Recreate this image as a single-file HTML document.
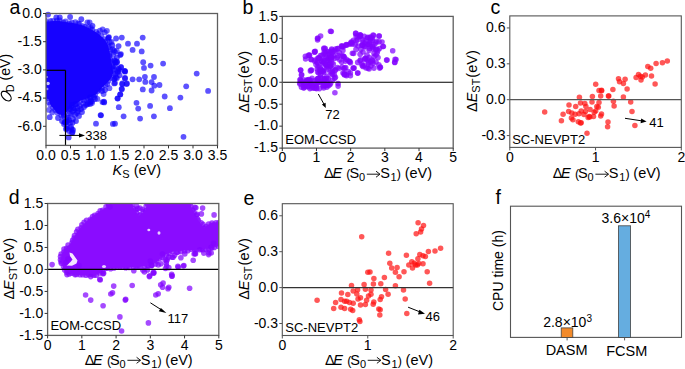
<!DOCTYPE html>
<html><head><meta charset="utf-8"><style>
html,body{margin:0;padding:0;background:#fff;}
body{width:685px;height:369px;overflow:hidden;}
svg{display:block;font-family:"Liberation Sans",sans-serif;}
</style></head><body>
<svg width="685" height="369" viewBox="0 0 685 369">
<clipPath id="ca"><rect x="46" y="13.5" width="171.5" height="131.9"/></clipPath><g clip-path="url(#ca)">
<g fill="#1000ff" fill-opacity="0.6"><circle cx="46.7" cy="20.5" r="2.9"/><circle cx="50.2" cy="20.9" r="2.9"/><circle cx="53.1" cy="21.0" r="2.9"/><circle cx="56.9" cy="20.6" r="2.9"/><circle cx="59.9" cy="20.4" r="2.9"/><circle cx="63.4" cy="22.3" r="2.9"/><circle cx="65.6" cy="21.5" r="2.9"/><circle cx="69.3" cy="23.3" r="2.9"/><circle cx="71.9" cy="22.6" r="2.9"/><circle cx="75.4" cy="22.2" r="2.9"/><circle cx="78.1" cy="23.5" r="2.9"/><circle cx="79.5" cy="24.0" r="2.9"/><circle cx="82.7" cy="26.2" r="2.9"/><circle cx="85.0" cy="26.8" r="2.9"/><circle cx="88.5" cy="27.5" r="2.9"/><circle cx="90.8" cy="28.0" r="2.9"/><circle cx="92.4" cy="29.9" r="2.9"/><circle cx="96.2" cy="31.9" r="2.9"/><circle cx="98.0" cy="33.8" r="2.9"/><circle cx="101.1" cy="35.8" r="2.9"/><circle cx="104.5" cy="39.2" r="2.9"/><circle cx="105.2" cy="41.6" r="2.9"/><circle cx="107.6" cy="44.9" r="2.9"/><circle cx="108.9" cy="47.0" r="2.9"/><circle cx="110.3" cy="49.9" r="2.9"/><circle cx="109.7" cy="53.8" r="2.9"/><circle cx="109.7" cy="55.8" r="2.9"/><circle cx="109.9" cy="58.8" r="2.9"/><circle cx="111.9" cy="61.3" r="2.9"/><circle cx="112.6" cy="63.4" r="2.9"/><circle cx="112.7" cy="66.6" r="2.9"/><circle cx="112.9" cy="69.5" r="2.9"/><circle cx="113.9" cy="73.6" r="2.9"/><circle cx="111.5" cy="78.0" r="2.9"/><circle cx="108.4" cy="80.8" r="2.9"/><circle cx="107.3" cy="84.1" r="2.9"/><circle cx="105.2" cy="84.9" r="2.9"/><circle cx="101.9" cy="87.9" r="2.9"/><circle cx="99.1" cy="89.7" r="2.9"/><circle cx="97.4" cy="91.2" r="2.9"/><circle cx="95.2" cy="94.7" r="2.9"/><circle cx="92.8" cy="94.9" r="2.9"/><circle cx="90.8" cy="97.4" r="2.9"/><circle cx="87.6" cy="97.8" r="2.9"/><circle cx="86.0" cy="99.6" r="2.9"/><circle cx="84.0" cy="100.4" r="2.9"/><circle cx="80.3" cy="100.4" r="2.9"/><circle cx="77.3" cy="103.5" r="2.9"/><circle cx="75.3" cy="104.1" r="2.9"/><circle cx="71.6" cy="106.1" r="2.9"/><circle cx="69.6" cy="108.3" r="2.9"/><circle cx="68.2" cy="109.6" r="2.9"/><circle cx="65.1" cy="112.4" r="2.9"/><circle cx="63.9" cy="115.1" r="2.9"/><circle cx="63.8" cy="116.2" r="2.9"/><circle cx="61.4" cy="115.2" r="2.9"/><circle cx="57.5" cy="112.7" r="2.9"/><circle cx="55.1" cy="109.9" r="2.9"/><circle cx="53.1" cy="107.6" r="2.9"/><circle cx="50.2" cy="104.5" r="2.9"/><circle cx="48.6" cy="102.1" r="2.9"/><circle cx="47.6" cy="98.1" r="2.9"/><circle cx="45.0" cy="97.7" r="2.9"/></g>
<g fill="#1000ff" fill-opacity="0.6"><circle cx="115.1" cy="52.1" r="2.9"/><circle cx="115.3" cy="62.5" r="2.9"/><circle cx="115.9" cy="77.3" r="2.9"/><circle cx="90.2" cy="104.1" r="2.9"/><circle cx="77.6" cy="108.0" r="2.9"/><circle cx="118.8" cy="68.6" r="2.9"/><circle cx="64.7" cy="122.0" r="2.9"/><circle cx="66.6" cy="117.8" r="2.9"/><circle cx="114.0" cy="50.4" r="2.9"/><circle cx="109.4" cy="88.2" r="2.9"/><circle cx="114.3" cy="60.2" r="2.9"/><circle cx="69.6" cy="113.6" r="2.9"/><circle cx="121.0" cy="67.1" r="2.9"/><circle cx="67.1" cy="121.5" r="2.9"/><circle cx="103.6" cy="94.1" r="2.9"/><circle cx="112.4" cy="49.2" r="2.9"/><circle cx="75.3" cy="108.6" r="2.9"/><circle cx="116.8" cy="51.0" r="2.9"/><circle cx="106.9" cy="30.8" r="2.9"/><circle cx="104.8" cy="32.4" r="2.9"/><circle cx="99.9" cy="30.7" r="2.9"/><circle cx="114.9" cy="60.9" r="2.9"/><circle cx="89.6" cy="22.3" r="2.9"/><circle cx="92.0" cy="101.4" r="2.9"/><circle cx="117.8" cy="71.3" r="2.9"/><circle cx="117.7" cy="72.2" r="2.9"/><circle cx="109.7" cy="42.0" r="2.9"/><circle cx="92.0" cy="103.0" r="2.9"/><circle cx="115.8" cy="62.9" r="2.9"/><circle cx="113.1" cy="54.7" r="2.9"/><circle cx="82.9" cy="103.6" r="2.9"/><circle cx="90.1" cy="102.5" r="2.9"/><circle cx="111.5" cy="41.9" r="2.9"/><circle cx="115.1" cy="66.4" r="2.9"/><circle cx="119.2" cy="70.7" r="2.9"/><circle cx="102.6" cy="29.4" r="2.9"/><circle cx="114.5" cy="78.6" r="2.9"/><circle cx="118.7" cy="69.6" r="2.9"/><circle cx="114.1" cy="79.3" r="2.9"/><circle cx="52.2" cy="112.4" r="2.9"/><circle cx="49.0" cy="109.9" r="2.9"/><circle cx="108.0" cy="38.8" r="2.9"/><circle cx="72.6" cy="111.3" r="2.9"/><circle cx="97.4" cy="98.9" r="2.9"/><circle cx="87.4" cy="22.5" r="2.9"/></g>
<polygon points="42.7,21.6 50.2,21.2 57.9,20.7 63.6,21.7 74.5,23.2 83.1,25.6 90.7,28.9 98.4,33.7 103.9,38.8 107.5,44.1 109.4,50.6 110.8,58.5 112.3,66.4 113.2,72.8 111.6,77.7 107.0,83.1 102.1,87.6 96.1,94.2 88.5,97.9 80.8,100.6 74.4,104.8 68.1,110.1 64.2,115.0 62.9,115.8 61.4,115.0 57.1,113.6 54.3,109.4 50.4,104.7 48.5,99.0 42.7,97.8" fill="#1602ff"/>
<circle cx="48" cy="83.5" r="1.8" fill="#fff" fill-opacity="0.75"/>
<circle cx="47.2" cy="89" r="1.3" fill="#fff" fill-opacity="0.5"/>
<circle cx="48.3" cy="18.3" r="1.2" fill="#fff" fill-opacity="0.6"/>
<circle cx="47" cy="77" r="1" fill="#fff" fill-opacity="0.5"/>
</g>
<g fill="#1000ff" fill-opacity="0.68"><circle cx="108.5" cy="37.6" r="2.9"/><circle cx="116.1" cy="38.5" r="2.9"/><circle cx="121.8" cy="37.6" r="2.9"/><circle cx="142.7" cy="37.6" r="2.9"/><circle cx="128.0" cy="43.7" r="2.9"/><circle cx="137.0" cy="43.7" r="2.9"/><circle cx="132.6" cy="49.9" r="2.9"/><circle cx="141.7" cy="51.4" r="2.9"/><circle cx="118.6" cy="46.1" r="2.9"/><circle cx="112.3" cy="45.2" r="2.9"/><circle cx="120.9" cy="54.1" r="2.9"/><circle cx="143.2" cy="62.2" r="2.9"/><circle cx="144.0" cy="67.9" r="2.9"/><circle cx="150.6" cy="65.6" r="2.9"/><circle cx="163.1" cy="63.6" r="2.9"/><circle cx="196.7" cy="73.6" r="2.9"/><circle cx="144.9" cy="76.8" r="2.9"/><circle cx="154.0" cy="77.0" r="2.9"/><circle cx="132.6" cy="79.3" r="2.9"/><circle cx="139.2" cy="79.3" r="2.9"/><circle cx="124.6" cy="70.8" r="2.9"/><circle cx="117.0" cy="62.2" r="2.9"/><circle cx="186.2" cy="86.3" r="2.9"/><circle cx="208.1" cy="90.9" r="2.9"/><circle cx="145.3" cy="81.9" r="2.9"/><circle cx="151.6" cy="82.1" r="2.9"/><circle cx="154.3" cy="85.7" r="2.9"/><circle cx="159.5" cy="85.0" r="2.9"/><circle cx="142.8" cy="89.4" r="2.9"/><circle cx="151.6" cy="90.5" r="2.9"/><circle cx="164.7" cy="96.5" r="2.9"/><circle cx="180.4" cy="97.6" r="2.9"/><circle cx="169.9" cy="108.2" r="2.9"/><circle cx="150.1" cy="105.9" r="2.9"/><circle cx="136.5" cy="102.8" r="2.9"/><circle cx="138.2" cy="108.6" r="2.9"/><circle cx="153.9" cy="116.3" r="2.9"/><circle cx="140.1" cy="118.6" r="2.9"/><circle cx="123.6" cy="116.3" r="2.9"/><circle cx="118.8" cy="107.2" r="2.9"/><circle cx="104.2" cy="102.4" r="2.9"/><circle cx="101.0" cy="115.3" r="2.9"/><circle cx="112.9" cy="123.9" r="2.9"/><circle cx="115.0" cy="123.7" r="2.9"/><circle cx="117.7" cy="98.6" r="2.9"/><circle cx="120.3" cy="94.4" r="2.9"/><circle cx="121.9" cy="89.2" r="2.9"/><circle cx="122.3" cy="84.2" r="2.9"/><circle cx="126.5" cy="84.0" r="2.9"/><circle cx="115.0" cy="82.9" r="2.9"/><circle cx="125.0" cy="78.4" r="2.9"/><circle cx="125.0" cy="71.7" r="2.9"/><circle cx="183.5" cy="136.8" r="2.9"/><circle cx="49.7" cy="117.2" r="2.9"/><circle cx="68.7" cy="137.4" r="2.9"/><circle cx="96.0" cy="123.7" r="2.9"/><circle cx="100.6" cy="115.1" r="2.9"/><circle cx="87.6" cy="104.2" r="2.9"/><circle cx="102.5" cy="102.1" r="2.9"/><circle cx="72.5" cy="122.7" r="2.9"/><circle cx="66.8" cy="128.6" r="2.9"/><circle cx="71.6" cy="128.9" r="2.9"/><circle cx="72.5" cy="132.2" r="2.9"/><circle cx="65.1" cy="122.4" r="2.9"/><circle cx="48.1" cy="14.6" r="2.9"/><circle cx="56.3" cy="17.5" r="2.9"/><circle cx="59.8" cy="17.5" r="2.9"/><circle cx="70.1" cy="17.0" r="2.9"/><circle cx="81.3" cy="19.2" r="2.9"/><circle cx="92.5" cy="25.8" r="2.9"/><circle cx="108.9" cy="37.1" r="2.9"/><circle cx="116.9" cy="61.8" r="2.9"/><circle cx="121.0" cy="67.2" r="2.9"/><circle cx="125.0" cy="71.2" r="2.9"/><circle cx="125.0" cy="78.0" r="2.9"/><circle cx="116.9" cy="78.0" r="2.9"/><circle cx="114.2" cy="83.4" r="2.9"/><circle cx="122.3" cy="83.4" r="2.9"/><circle cx="127.0" cy="83.4" r="2.9"/><circle cx="121.6" cy="88.8" r="2.9"/><circle cx="120.2" cy="94.3" r="2.9"/><circle cx="117.5" cy="98.3" r="2.9"/><circle cx="104.0" cy="101.7" r="2.9"/><circle cx="120.2" cy="55.0" r="2.9"/><circle cx="116.9" cy="57.7" r="2.9"/><circle cx="113.5" cy="68.5" r="2.9"/><circle cx="115.5" cy="74.0" r="2.9"/><circle cx="119.6" cy="75.3" r="2.9"/><circle cx="72.0" cy="105.0" r="2.9"/><circle cx="76.0" cy="104.0" r="2.9"/><circle cx="80.0" cy="106.0" r="2.9"/><circle cx="84.0" cy="107.0" r="2.9"/><circle cx="70.0" cy="109.0" r="2.9"/><circle cx="74.0" cy="110.0" r="2.9"/><circle cx="78.0" cy="111.0" r="2.9"/><circle cx="82.0" cy="112.0" r="2.9"/><circle cx="71.0" cy="114.0" r="2.9"/><circle cx="75.0" cy="115.0" r="2.9"/><circle cx="79.0" cy="116.0" r="2.9"/><circle cx="68.0" cy="118.0" r="2.9"/><circle cx="73.0" cy="119.0" r="2.9"/><circle cx="76.0" cy="121.0" r="2.9"/><circle cx="66.0" cy="122.0" r="2.9"/><circle cx="70.0" cy="123.0" r="2.9"/><circle cx="67.0" cy="126.0" r="2.9"/><circle cx="71.0" cy="127.0" r="2.9"/><circle cx="73.0" cy="130.0" r="2.9"/><circle cx="69.0" cy="131.0" r="2.9"/><circle cx="66.0" cy="129.0" r="2.9"/><circle cx="72.0" cy="133.0" r="2.9"/><circle cx="77.0" cy="113.0" r="2.9"/><circle cx="81.0" cy="109.0" r="2.9"/><circle cx="73.0" cy="108.0" r="2.9"/><circle cx="69.0" cy="120.0" r="2.9"/><circle cx="88.0" cy="103.0" r="2.9"/><circle cx="91.0" cy="101.0" r="2.9"/><circle cx="95.0" cy="99.0" r="2.9"/><circle cx="90.0" cy="97.5" r="2.9"/><circle cx="94.0" cy="97.0" r="2.9"/><circle cx="102.0" cy="91.0" r="2.9"/><circle cx="105.0" cy="90.0" r="2.9"/><circle cx="86.0" cy="105.0" r="2.9"/><circle cx="64.0" cy="124.0" r="2.9"/><circle cx="62.0" cy="121.0" r="2.9"/><circle cx="58.0" cy="118.0" r="2.9"/></g>
<line x1="65.5" y1="70.3" x2="65.5" y2="145.4" stroke="#000" stroke-width="1.2"/>
<line x1="46.0" y1="70.3" x2="65.5" y2="70.3" stroke="#000" stroke-width="1.2"/>
<rect x="46.0" y="13.5" width="171.50" height="131.90" fill="none" stroke="#5e5e5e" stroke-width="1.3"/>
<line x1="46.0" y1="145.4" x2="46.0" y2="148.4" stroke="#333" stroke-width="1"/>
<text x="46.00" y="159.90" font-size="14" text-anchor="middle" >0.0</text>
<line x1="70.5" y1="145.4" x2="70.5" y2="148.4" stroke="#333" stroke-width="1"/>
<text x="70.50" y="159.90" font-size="14" text-anchor="middle" >0.5</text>
<line x1="95.0" y1="145.4" x2="95.0" y2="148.4" stroke="#333" stroke-width="1"/>
<text x="95.00" y="159.90" font-size="14" text-anchor="middle" >1.0</text>
<line x1="119.5" y1="145.4" x2="119.5" y2="148.4" stroke="#333" stroke-width="1"/>
<text x="119.50" y="159.90" font-size="14" text-anchor="middle" >1.5</text>
<line x1="144.0" y1="145.4" x2="144.0" y2="148.4" stroke="#333" stroke-width="1"/>
<text x="144.00" y="159.90" font-size="14" text-anchor="middle" >2.0</text>
<line x1="168.5" y1="145.4" x2="168.5" y2="148.4" stroke="#333" stroke-width="1"/>
<text x="168.50" y="159.90" font-size="14" text-anchor="middle" >2.5</text>
<line x1="193.0" y1="145.4" x2="193.0" y2="148.4" stroke="#333" stroke-width="1"/>
<text x="193.00" y="159.90" font-size="14" text-anchor="middle" >3.0</text>
<line x1="217.5" y1="145.4" x2="217.5" y2="148.4" stroke="#333" stroke-width="1"/>
<text x="217.50" y="159.90" font-size="14" text-anchor="middle" >3.5</text>
<line x1="43.0" y1="13.5" x2="46.0" y2="13.5" stroke="#333" stroke-width="1"/>
<text x="41.70" y="17.80" font-size="14" text-anchor="end" >0.0</text>
<line x1="43.0" y1="41.7" x2="46.0" y2="41.7" stroke="#333" stroke-width="1"/>
<text x="41.70" y="46.00" font-size="14" text-anchor="end" >-1.5</text>
<line x1="43.0" y1="69.9" x2="46.0" y2="69.9" stroke="#333" stroke-width="1"/>
<text x="41.70" y="74.20" font-size="14" text-anchor="end" >-3.0</text>
<line x1="43.0" y1="98.1" x2="46.0" y2="98.1" stroke="#333" stroke-width="1"/>
<text x="41.70" y="102.40" font-size="14" text-anchor="end" >-4.5</text>
<line x1="43.0" y1="126.3" x2="46.0" y2="126.3" stroke="#333" stroke-width="1"/>
<text x="41.70" y="130.60" font-size="14" text-anchor="end" >-6.0</text>
<line x1="59.4" y1="135.4" x2="80" y2="135.4" stroke="#000" stroke-width="1"/>
<path d="M79,133.3 L85,135.4 L79,137.5 Z" fill="#000"/>
<text x="85.30" y="140.30" font-size="13" text-anchor="start" >338</text>
<text x="9.50" y="14.20" font-size="19.5" text-anchor="start" >a</text>
<text x="112.60" y="175.20" font-size="14.5" text-anchor="start" ><tspan font-style="italic">K</tspan><tspan font-size="11" dy="3">S</tspan><tspan dy="-3"> (eV)</tspan></text>
<text transform="translate(9.6,80.4) rotate(-90)" font-size="14">(eV)</text>
<text transform="translate(14,92) rotate(-90)" font-size="10.5">D</text>
<ellipse cx="6.2" cy="96.1" rx="5.9" ry="3.5" transform="rotate(42 6.2 96.1)" fill="none" stroke="#000" stroke-width="1.15"/>
<line x1="1.8" y1="91.4" x2="7.6" y2="91.4" stroke="#000" stroke-width="1.1"/>
<g fill="#8204ff" fill-opacity="0.72"><circle cx="324.7" cy="78.9" r="2.8"/><circle cx="328.6" cy="85.6" r="2.8"/><circle cx="307.1" cy="79.8" r="2.8"/><circle cx="313.3" cy="87.6" r="2.8"/><circle cx="317.6" cy="78.9" r="2.8"/><circle cx="324.6" cy="79.7" r="2.8"/><circle cx="316.7" cy="81.0" r="2.8"/><circle cx="321.0" cy="82.1" r="2.8"/><circle cx="303.6" cy="88.0" r="2.8"/><circle cx="316.2" cy="85.8" r="2.8"/><circle cx="303.8" cy="83.5" r="2.8"/><circle cx="326.9" cy="87.1" r="2.8"/><circle cx="300.1" cy="79.7" r="2.8"/><circle cx="325.2" cy="85.7" r="2.8"/><circle cx="311.6" cy="83.2" r="2.8"/><circle cx="304.1" cy="87.6" r="2.8"/><circle cx="311.6" cy="88.0" r="2.8"/><circle cx="318.5" cy="78.4" r="2.8"/><circle cx="309.5" cy="80.1" r="2.8"/><circle cx="327.6" cy="84.6" r="2.8"/><circle cx="300.4" cy="79.5" r="2.8"/><circle cx="310.6" cy="83.1" r="2.8"/><circle cx="317.5" cy="82.2" r="2.8"/><circle cx="317.5" cy="81.5" r="2.8"/><circle cx="299.7" cy="83.0" r="2.8"/><circle cx="303.7" cy="85.6" r="2.8"/><circle cx="307.7" cy="80.8" r="2.8"/><circle cx="315.0" cy="80.6" r="2.8"/><circle cx="317.2" cy="83.8" r="2.8"/><circle cx="300.1" cy="84.2" r="2.8"/><circle cx="323.7" cy="88.0" r="2.8"/><circle cx="323.8" cy="85.1" r="2.8"/><circle cx="319.3" cy="81.9" r="2.8"/><circle cx="308.0" cy="87.0" r="2.8"/><circle cx="320.8" cy="81.1" r="2.8"/><circle cx="323.4" cy="86.4" r="2.8"/><circle cx="315.3" cy="85.1" r="2.8"/><circle cx="310.2" cy="84.1" r="2.8"/><circle cx="312.0" cy="78.2" r="2.8"/><circle cx="309.8" cy="81.4" r="2.8"/><circle cx="330.6" cy="83.3" r="2.8"/><circle cx="310.8" cy="80.4" r="2.8"/><circle cx="306.5" cy="81.7" r="2.8"/><circle cx="326.9" cy="82.9" r="2.8"/><circle cx="313.3" cy="84.3" r="2.8"/><circle cx="308.7" cy="79.5" r="2.8"/><circle cx="301.1" cy="81.1" r="2.8"/><circle cx="308.9" cy="86.2" r="2.8"/><circle cx="316.6" cy="88.7" r="2.8"/><circle cx="309.9" cy="88.6" r="2.8"/><circle cx="317.7" cy="78.5" r="2.8"/><circle cx="304.7" cy="84.5" r="2.8"/><circle cx="323.8" cy="82.6" r="2.8"/><circle cx="326.8" cy="78.3" r="2.8"/><circle cx="314.5" cy="88.3" r="2.8"/><circle cx="307.8" cy="80.6" r="2.8"/><circle cx="307.6" cy="86.0" r="2.8"/><circle cx="306.0" cy="82.3" r="2.8"/><circle cx="305.4" cy="84.7" r="2.8"/><circle cx="326.7" cy="85.3" r="2.8"/><circle cx="305.3" cy="86.3" r="2.8"/><circle cx="329.8" cy="84.7" r="2.8"/><circle cx="301.5" cy="87.2" r="2.8"/><circle cx="327.0" cy="81.6" r="2.8"/><circle cx="303.4" cy="79.8" r="2.8"/><circle cx="316.2" cy="88.0" r="2.8"/><circle cx="319.5" cy="88.6" r="2.8"/><circle cx="305.8" cy="81.4" r="2.8"/><circle cx="323.0" cy="85.3" r="2.8"/><circle cx="312.0" cy="85.6" r="2.8"/><circle cx="323.8" cy="48.8" r="2.8"/><circle cx="325.3" cy="48.5" r="2.8"/><circle cx="329.5" cy="57.7" r="2.8"/><circle cx="326.9" cy="66.1" r="2.8"/><circle cx="322.1" cy="61.8" r="2.8"/><circle cx="328.3" cy="78.6" r="2.8"/><circle cx="318.1" cy="66.6" r="2.8"/><circle cx="331.5" cy="57.5" r="2.8"/><circle cx="319.9" cy="71.6" r="2.8"/><circle cx="318.8" cy="73.0" r="2.8"/><circle cx="325.5" cy="64.2" r="2.8"/><circle cx="328.8" cy="64.8" r="2.8"/><circle cx="330.1" cy="66.3" r="2.8"/><circle cx="323.6" cy="70.7" r="2.8"/><circle cx="322.2" cy="69.8" r="2.8"/><circle cx="332.3" cy="71.8" r="2.8"/><circle cx="323.2" cy="71.7" r="2.8"/><circle cx="322.6" cy="63.7" r="2.8"/><circle cx="317.2" cy="62.2" r="2.8"/><circle cx="330.1" cy="71.8" r="2.8"/><circle cx="324.2" cy="78.7" r="2.8"/><circle cx="321.6" cy="71.2" r="2.8"/><circle cx="327.0" cy="64.8" r="2.8"/><circle cx="320.6" cy="77.1" r="2.8"/><circle cx="324.3" cy="51.8" r="2.8"/><circle cx="320.5" cy="70.6" r="2.8"/><circle cx="317.6" cy="71.9" r="2.8"/><circle cx="321.9" cy="78.4" r="2.8"/><circle cx="327.0" cy="67.4" r="2.8"/><circle cx="323.9" cy="72.6" r="2.8"/><circle cx="326.2" cy="57.4" r="2.8"/><circle cx="331.7" cy="49.1" r="2.8"/><circle cx="329.9" cy="59.9" r="2.8"/><circle cx="328.3" cy="60.1" r="2.8"/><circle cx="335.4" cy="77.2" r="2.8"/><circle cx="329.5" cy="54.2" r="2.8"/><circle cx="322.0" cy="55.4" r="2.8"/><circle cx="325.7" cy="54.4" r="2.8"/><circle cx="321.1" cy="71.3" r="2.8"/><circle cx="329.9" cy="56.6" r="2.8"/><circle cx="328.4" cy="52.0" r="2.8"/><circle cx="334.3" cy="74.8" r="2.8"/><circle cx="322.3" cy="71.0" r="2.8"/><circle cx="333.5" cy="56.0" r="2.8"/><circle cx="323.6" cy="62.5" r="2.8"/><circle cx="330.7" cy="66.1" r="2.8"/><circle cx="326.1" cy="65.5" r="2.8"/><circle cx="334.7" cy="58.5" r="2.8"/><circle cx="332.6" cy="74.6" r="2.8"/><circle cx="320.6" cy="74.6" r="2.8"/><circle cx="331.7" cy="50.1" r="2.8"/><circle cx="320.4" cy="68.8" r="2.8"/><circle cx="318.8" cy="57.9" r="2.8"/><circle cx="335.4" cy="69.9" r="2.8"/><circle cx="334.6" cy="78.3" r="2.8"/><circle cx="332.8" cy="69.1" r="2.8"/><circle cx="317.8" cy="63.2" r="2.8"/><circle cx="321.6" cy="60.8" r="2.8"/><circle cx="326.7" cy="51.3" r="2.8"/><circle cx="325.6" cy="52.7" r="2.8"/><circle cx="330.7" cy="51.7" r="2.8"/><circle cx="331.8" cy="63.0" r="2.8"/><circle cx="319.2" cy="58.3" r="2.8"/><circle cx="326.9" cy="76.4" r="2.8"/><circle cx="324.0" cy="53.9" r="2.8"/><circle cx="331.6" cy="55.7" r="2.8"/><circle cx="320.5" cy="55.5" r="2.8"/><circle cx="327.2" cy="60.1" r="2.8"/><circle cx="328.1" cy="58.6" r="2.8"/><circle cx="317.2" cy="69.0" r="2.8"/><circle cx="330.1" cy="64.4" r="2.8"/><circle cx="328.0" cy="69.1" r="2.8"/><circle cx="331.4" cy="59.8" r="2.8"/><circle cx="323.4" cy="60.4" r="2.8"/><circle cx="324.7" cy="60.1" r="2.8"/><circle cx="372.2" cy="40.2" r="2.8"/><circle cx="359.9" cy="36.8" r="2.8"/><circle cx="377.9" cy="50.3" r="2.8"/><circle cx="362.7" cy="45.3" r="2.8"/><circle cx="370.1" cy="39.0" r="2.8"/><circle cx="376.6" cy="49.2" r="2.8"/><circle cx="368.8" cy="44.3" r="2.8"/><circle cx="372.8" cy="47.1" r="2.8"/><circle cx="364.5" cy="46.5" r="2.8"/><circle cx="365.0" cy="43.0" r="2.8"/><circle cx="372.2" cy="45.9" r="2.8"/><circle cx="362.6" cy="44.9" r="2.8"/><circle cx="369.9" cy="37.2" r="2.8"/><circle cx="372.2" cy="38.0" r="2.8"/><circle cx="382.0" cy="42.0" r="2.8"/><circle cx="375.8" cy="42.9" r="2.8"/><circle cx="367.7" cy="37.2" r="2.8"/><circle cx="369.4" cy="43.0" r="2.8"/><circle cx="369.4" cy="48.5" r="2.8"/><circle cx="359.9" cy="36.3" r="2.8"/><circle cx="379.1" cy="41.7" r="2.8"/><circle cx="373.1" cy="48.7" r="2.8"/><circle cx="353.4" cy="40.2" r="2.8"/><circle cx="379.5" cy="48.5" r="2.8"/><circle cx="356.1" cy="35.9" r="2.8"/><circle cx="360.3" cy="35.0" r="2.8"/><circle cx="368.0" cy="68.1" r="2.8"/><circle cx="372.6" cy="61.1" r="2.8"/><circle cx="360.5" cy="59.9" r="2.8"/><circle cx="370.6" cy="61.6" r="2.8"/><circle cx="380.4" cy="67.2" r="2.8"/><circle cx="362.2" cy="65.6" r="2.8"/><circle cx="368.3" cy="62.4" r="2.8"/><circle cx="364.7" cy="59.4" r="2.8"/><circle cx="367.5" cy="59.6" r="2.8"/><circle cx="374.0" cy="53.2" r="2.8"/><circle cx="363.0" cy="66.4" r="2.8"/><circle cx="365.7" cy="58.5" r="2.8"/><circle cx="339.5" cy="52.8" r="2.8"/><circle cx="335.5" cy="49.1" r="2.8"/><circle cx="356.2" cy="40.8" r="2.8"/><circle cx="349.7" cy="44.1" r="2.8"/><circle cx="342.9" cy="50.5" r="2.8"/><circle cx="338.2" cy="55.5" r="2.8"/><circle cx="352.2" cy="44.1" r="2.8"/><circle cx="351.0" cy="43.3" r="2.8"/><circle cx="334.9" cy="51.4" r="2.8"/><circle cx="343.2" cy="47.0" r="2.8"/></g>
<g fill="#8204ff" fill-opacity="0.72"><circle cx="330.5" cy="31.3" r="2.8"/><circle cx="320.6" cy="36.0" r="2.8"/><circle cx="317.5" cy="38.2" r="2.8"/><circle cx="317.9" cy="38.4" r="2.8"/><circle cx="355.9" cy="33.4" r="2.8"/><circle cx="314.7" cy="51.9" r="2.8"/><circle cx="309.3" cy="55.1" r="2.8"/><circle cx="305.6" cy="59.0" r="2.8"/><circle cx="300.6" cy="70.3" r="2.8"/><circle cx="301.7" cy="74.7" r="2.8"/><circle cx="311.5" cy="70.3" r="2.8"/><circle cx="338.1" cy="86.1" r="2.8"/><circle cx="334.9" cy="92.7" r="2.8"/><circle cx="355.6" cy="33.4" r="2.8"/><circle cx="360.6" cy="35.6" r="2.8"/><circle cx="373.6" cy="35.6" r="2.8"/><circle cx="379.0" cy="36.0" r="2.8"/><circle cx="383.4" cy="46.5" r="2.8"/><circle cx="392.7" cy="50.8" r="2.8"/><circle cx="396.0" cy="59.5" r="2.8"/><circle cx="394.7" cy="62.3" r="2.8"/><circle cx="386.6" cy="60.1" r="2.8"/><circle cx="380.1" cy="67.1" r="2.8"/><circle cx="357.8" cy="73.1" r="2.8"/><circle cx="346.5" cy="75.7" r="2.8"/><circle cx="344.3" cy="73.6" r="2.8"/><circle cx="354.1" cy="68.1" r="2.8"/><circle cx="349.8" cy="61.6" r="2.8"/><circle cx="343.3" cy="56.2" r="2.8"/><circle cx="342.2" cy="67.1" r="2.8"/><circle cx="315.2" cy="51.4" r="2.8"/><circle cx="309.5" cy="55.4" r="2.8"/><circle cx="305.4" cy="56.3" r="2.8"/><circle cx="311.1" cy="59.5" r="2.8"/><circle cx="314.4" cy="61.1" r="2.8"/><circle cx="316.0" cy="64.4" r="2.8"/><circle cx="300.6" cy="70.1" r="2.8"/><circle cx="301.4" cy="75.0" r="2.8"/><circle cx="311.1" cy="70.1" r="2.8"/><circle cx="317.6" cy="40.0" r="2.8"/><circle cx="324.1" cy="48.1" r="2.8"/><circle cx="332.3" cy="52.2" r="2.8"/><circle cx="342.0" cy="46.5" r="2.8"/><circle cx="346.9" cy="44.9" r="2.8"/><circle cx="343.7" cy="56.3" r="2.8"/><circle cx="345.3" cy="61.1" r="2.8"/><circle cx="343.7" cy="68.5" r="2.8"/><circle cx="344.5" cy="75.0" r="2.8"/><circle cx="338.8" cy="68.5" r="2.8"/><circle cx="331.3" cy="31.5" r="2.8"/><circle cx="360.1" cy="34.8" r="2.8"/><circle cx="364.2" cy="36.4" r="2.8"/><circle cx="373.1" cy="35.1" r="2.8"/><circle cx="379.2" cy="36.1" r="2.8"/><circle cx="357.7" cy="39.7" r="2.8"/><circle cx="362.6" cy="39.7" r="2.8"/><circle cx="367.4" cy="38.0" r="2.8"/><circle cx="370.7" cy="40.5" r="2.8"/><circle cx="376.4" cy="41.3" r="2.8"/><circle cx="351.2" cy="42.1" r="2.8"/><circle cx="346.3" cy="44.5" r="2.8"/><circle cx="342.2" cy="46.2" r="2.8"/><circle cx="338.1" cy="48.6" r="2.8"/><circle cx="334.1" cy="51.0" r="2.8"/><circle cx="355.2" cy="44.5" r="2.8"/><circle cx="361.7" cy="45.3" r="2.8"/><circle cx="367.4" cy="44.5" r="2.8"/><circle cx="374.0" cy="44.5" r="2.8"/><circle cx="382.9" cy="46.5" r="2.8"/><circle cx="360.9" cy="49.4" r="2.8"/><circle cx="356.0" cy="49.4" r="2.8"/><circle cx="369.1" cy="50.2" r="2.8"/><circle cx="375.6" cy="49.4" r="2.8"/><circle cx="353.6" cy="53.5" r="2.8"/><circle cx="360.1" cy="54.3" r="2.8"/><circle cx="377.2" cy="52.7" r="2.8"/><circle cx="342.2" cy="55.9" r="2.8"/><circle cx="349.5" cy="61.6" r="2.8"/><circle cx="346.3" cy="59.2" r="2.8"/><circle cx="339.8" cy="60.0" r="2.8"/><circle cx="337.3" cy="57.6" r="2.8"/><circle cx="365.0" cy="58.4" r="2.8"/><circle cx="369.1" cy="57.6" r="2.8"/><circle cx="374.0" cy="56.7" r="2.8"/><circle cx="378.0" cy="57.6" r="2.8"/><circle cx="387.0" cy="60.0" r="2.8"/><circle cx="395.1" cy="59.2" r="2.8"/><circle cx="394.8" cy="62.4" r="2.8"/><circle cx="357.7" cy="62.4" r="2.8"/><circle cx="360.1" cy="60.8" r="2.8"/><circle cx="364.2" cy="65.7" r="2.8"/><circle cx="368.3" cy="64.1" r="2.8"/><circle cx="373.1" cy="63.3" r="2.8"/><circle cx="378.8" cy="64.9" r="2.8"/><circle cx="369.1" cy="69.0" r="2.8"/><circle cx="374.0" cy="68.1" r="2.8"/><circle cx="379.7" cy="68.1" r="2.8"/><circle cx="353.6" cy="68.1" r="2.8"/><circle cx="344.7" cy="68.1" r="2.8"/><circle cx="343.0" cy="73.0" r="2.8"/><circle cx="346.3" cy="74.7" r="2.8"/><circle cx="350.3" cy="73.0" r="2.8"/><circle cx="357.7" cy="73.0" r="2.8"/><circle cx="331.6" cy="57.6" r="2.8"/><circle cx="333.3" cy="64.1" r="2.8"/><circle cx="334.9" cy="70.6" r="2.8"/><circle cx="331.6" cy="73.8" r="2.8"/><circle cx="338.1" cy="83.6" r="2.8"/><circle cx="332.4" cy="80.3" r="2.8"/><circle cx="308.4" cy="55.3" r="2.8"/><circle cx="311.1" cy="59.4" r="2.8"/><circle cx="314.5" cy="51.9" r="2.8"/><circle cx="315.2" cy="60.1" r="2.8"/><circle cx="310.4" cy="70.9" r="2.8"/><circle cx="317.9" cy="58.0" r="2.8"/><circle cx="319.9" cy="67.5" r="2.8"/><circle cx="337.5" cy="48.6" r="2.8"/><circle cx="341.6" cy="45.8" r="2.8"/><circle cx="345.7" cy="45.2" r="2.8"/><circle cx="351.7" cy="42.5" r="2.8"/><circle cx="352.4" cy="53.3" r="2.8"/><circle cx="344.3" cy="57.4" r="2.8"/><circle cx="341.6" cy="62.1" r="2.8"/><circle cx="348.4" cy="60.7" r="2.8"/><circle cx="350.4" cy="62.8" r="2.8"/><circle cx="345.7" cy="67.5" r="2.8"/><circle cx="344.3" cy="74.3" r="2.8"/><circle cx="348.4" cy="71.6" r="2.8"/><circle cx="350.4" cy="75.7" r="2.8"/><circle cx="353.1" cy="68.2" r="2.8"/><circle cx="337.5" cy="67.5" r="2.8"/><circle cx="358.0" cy="37.0" r="2.8"/><circle cx="363.0" cy="42.0" r="2.8"/><circle cx="366.0" cy="41.0" r="2.8"/><circle cx="371.0" cy="37.0" r="2.8"/><circle cx="365.0" cy="47.0" r="2.8"/><circle cx="370.0" cy="46.0" r="2.8"/><circle cx="358.0" cy="46.0" r="2.8"/><circle cx="363.0" cy="52.0" r="2.8"/><circle cx="367.0" cy="55.0" r="2.8"/><circle cx="372.0" cy="60.0" r="2.8"/><circle cx="376.0" cy="62.0" r="2.8"/><circle cx="362.0" cy="64.0" r="2.8"/><circle cx="366.0" cy="68.0" r="2.8"/><circle cx="371.0" cy="66.0" r="2.8"/><circle cx="376.0" cy="55.0" r="2.8"/></g>
<line x1="282.3" y1="82.25" x2="453.2" y2="82.25" stroke="#000" stroke-width="1.2"/>
<rect x="282.3" y="16.4" width="170.90" height="131.70" fill="none" stroke="#5e5e5e" stroke-width="1.3"/>
<line x1="282.3" y1="148.1" x2="282.3" y2="151.1" stroke="#333" stroke-width="1"/>
<text x="282.30" y="162.20" font-size="14" text-anchor="middle" >0</text>
<line x1="316.48" y1="148.1" x2="316.48" y2="151.1" stroke="#333" stroke-width="1"/>
<text x="316.48" y="162.20" font-size="14" text-anchor="middle" >1</text>
<line x1="350.66" y1="148.1" x2="350.66" y2="151.1" stroke="#333" stroke-width="1"/>
<text x="350.66" y="162.20" font-size="14" text-anchor="middle" >2</text>
<line x1="384.84" y1="148.1" x2="384.84" y2="151.1" stroke="#333" stroke-width="1"/>
<text x="384.84" y="162.20" font-size="14" text-anchor="middle" >3</text>
<line x1="419.02" y1="148.1" x2="419.02" y2="151.1" stroke="#333" stroke-width="1"/>
<text x="419.02" y="162.20" font-size="14" text-anchor="middle" >4</text>
<line x1="453.2" y1="148.1" x2="453.2" y2="151.1" stroke="#333" stroke-width="1"/>
<text x="453.20" y="162.20" font-size="14" text-anchor="middle" >5</text>
<line x1="279.3" y1="16.400000000000006" x2="282.3" y2="16.400000000000006" stroke="#333" stroke-width="1"/>
<text x="278.00" y="20.70" font-size="14" text-anchor="end" >1.5</text>
<line x1="279.3" y1="38.35" x2="282.3" y2="38.35" stroke="#333" stroke-width="1"/>
<text x="278.00" y="42.65" font-size="14" text-anchor="end" >1.0</text>
<line x1="279.3" y1="60.3" x2="282.3" y2="60.3" stroke="#333" stroke-width="1"/>
<text x="278.00" y="64.60" font-size="14" text-anchor="end" >0.5</text>
<line x1="279.3" y1="82.25" x2="282.3" y2="82.25" stroke="#333" stroke-width="1"/>
<text x="278.00" y="86.55" font-size="14" text-anchor="end" >0.0</text>
<line x1="279.3" y1="104.2" x2="282.3" y2="104.2" stroke="#333" stroke-width="1"/>
<text x="278.00" y="108.50" font-size="14" text-anchor="end" >-0.5</text>
<line x1="279.3" y1="126.15" x2="282.3" y2="126.15" stroke="#333" stroke-width="1"/>
<text x="278.00" y="130.45" font-size="14" text-anchor="end" >-1.0</text>
<line x1="279.3" y1="148.1" x2="282.3" y2="148.1" stroke="#333" stroke-width="1"/>
<text x="278.00" y="152.40" font-size="14" text-anchor="end" >-1.5</text>
<line x1="318.3" y1="94" x2="324.2" y2="104.5" stroke="#000" stroke-width="1"/>
<path d="M321.9,104.6 L325.8,108 L325.6,102.8 Z" fill="#000"/>
<text x="325.20" y="118.60" font-size="13" text-anchor="start" >72</text>
<text x="285.30" y="143.50" font-size="13" text-anchor="start" >EOM-CCSD</text>
<text x="242.40" y="13.60" font-size="19.5" text-anchor="start" >b</text>
<g font-size="14.5"><text x="324.10" y="178.4">Δ</text><text x="332.40" y="178.4" font-style="italic">E</text><text x="346.30" y="178.4" font-size="12.5">(</text><text x="349.40" y="178.4">S</text><text x="359.00" y="181.40" font-size="11">0</text><line x1="366.80" y1="174.20" x2="379.60" y2="174.20" stroke="#000" stroke-width="0.9"/><path d="M376.00,171.20 L380.00,174.20 L376.00,177.20" fill="none" stroke="#000" stroke-width="0.9"/><text x="380.20" y="178.4">S</text><text x="390.60" y="181.40" font-size="11">1</text><text x="396.80" y="178.4" font-size="12.5">)</text><text x="404.70" y="178.4">(eV)</text></g>
<text transform="translate(249.3,81.75) rotate(-90)" font-size="14.5" text-anchor="middle"><tspan>Δ</tspan><tspan font-style="italic">E</tspan><tspan font-size="11" dy="3">ST</tspan><tspan dy="-3" dx="1">(eV)</tspan></text>
<g fill="#ff1010" fill-opacity="0.7"><circle cx="544.7" cy="112.1" r="2.75"/><circle cx="561.4" cy="120.7" r="2.75"/><circle cx="563.1" cy="114.2" r="2.75"/><circle cx="569.0" cy="104.9" r="2.75"/><circle cx="568.6" cy="111.6" r="2.75"/><circle cx="571.8" cy="113.1" r="2.75"/><circle cx="575.7" cy="106.6" r="2.75"/><circle cx="572.9" cy="119.7" r="2.75"/><circle cx="571.4" cy="118.1" r="2.75"/><circle cx="575.1" cy="114.2" r="2.75"/><circle cx="579.0" cy="113.8" r="2.75"/><circle cx="578.3" cy="121.8" r="2.75"/><circle cx="580.5" cy="122.9" r="2.75"/><circle cx="579.4" cy="97.3" r="2.75"/><circle cx="580.5" cy="103.0" r="2.75"/><circle cx="584.8" cy="103.4" r="2.75"/><circle cx="585.9" cy="106.6" r="2.75"/><circle cx="585.5" cy="111.4" r="2.75"/><circle cx="589.2" cy="116.4" r="2.75"/><circle cx="588.1" cy="117.5" r="2.75"/><circle cx="592.4" cy="96.4" r="2.75"/><circle cx="593.5" cy="116.4" r="2.75"/><circle cx="592.0" cy="101.9" r="2.75"/><circle cx="595.7" cy="84.3" r="2.75"/><circle cx="587.0" cy="133.3" r="2.75"/><circle cx="599.0" cy="90.4" r="2.75"/><circle cx="596.8" cy="106.6" r="2.75"/><circle cx="595.7" cy="111.0" r="2.75"/><circle cx="667.3" cy="61.0" r="2.75"/><circle cx="662.4" cy="62.7" r="2.75"/><circle cx="656.1" cy="63.4" r="2.75"/><circle cx="647.8" cy="66.6" r="2.75"/><circle cx="650.7" cy="68.3" r="2.75"/><circle cx="638.5" cy="74.4" r="2.75"/><circle cx="640.5" cy="76.3" r="2.75"/><circle cx="636.1" cy="77.6" r="2.75"/><circle cx="645.4" cy="75.1" r="2.75"/><circle cx="651.5" cy="76.1" r="2.75"/><circle cx="641.0" cy="80.0" r="2.75"/><circle cx="655.1" cy="84.1" r="2.75"/><circle cx="618.5" cy="78.8" r="2.75"/><circle cx="619.5" cy="81.7" r="2.75"/><circle cx="625.1" cy="79.3" r="2.75"/><circle cx="623.4" cy="83.4" r="2.75"/><circle cx="627.1" cy="89.0" r="2.75"/><circle cx="601.5" cy="90.2" r="2.75"/><circle cx="612.9" cy="89.5" r="2.75"/><circle cx="608.8" cy="95.9" r="2.75"/><circle cx="600.7" cy="95.9" r="2.75"/><circle cx="623.4" cy="97.1" r="2.75"/><circle cx="630.7" cy="102.0" r="2.75"/><circle cx="613.4" cy="101.2" r="2.75"/><circle cx="614.1" cy="106.1" r="2.75"/><circle cx="632.0" cy="111.5" r="2.75"/><circle cx="608.0" cy="122.0" r="2.75"/><circle cx="607.6" cy="126.8" r="2.75"/><circle cx="634.9" cy="125.6" r="2.75"/><circle cx="599.0" cy="102.4" r="2.75"/><circle cx="598.3" cy="107.3" r="2.75"/><circle cx="601.5" cy="113.9" r="2.75"/><circle cx="600.7" cy="115.9" r="2.75"/><circle cx="589.8" cy="117.1" r="2.75"/><circle cx="581.2" cy="111.0" r="2.75"/><circle cx="581.2" cy="122.7" r="2.75"/><circle cx="590.1" cy="109.6" r="2.75"/><circle cx="594.2" cy="112.3" r="2.75"/><circle cx="584.0" cy="114.4" r="2.75"/><circle cx="601.6" cy="90.7" r="2.75"/><circle cx="608.4" cy="96.1" r="2.75"/><circle cx="642.3" cy="77.0" r="2.75"/></g>
<line x1="509.8" y1="99.7" x2="681.3" y2="99.7" stroke="#555" stroke-width="1.2"/>
<rect x="509.8" y="15.9" width="171.50" height="131.50" fill="none" stroke="#555" stroke-width="1.1"/>
<line x1="509.8" y1="147.4" x2="509.8" y2="150.4" stroke="#555" stroke-width="1"/>
<text x="509.80" y="161.70" font-size="14" text-anchor="middle" >0</text>
<line x1="595.55" y1="147.4" x2="595.55" y2="150.4" stroke="#555" stroke-width="1"/>
<text x="595.55" y="161.70" font-size="14" text-anchor="middle" >1</text>
<line x1="681.3" y1="147.4" x2="681.3" y2="150.4" stroke="#555" stroke-width="1"/>
<text x="681.30" y="161.70" font-size="14" text-anchor="middle" >2</text>
<line x1="506.8" y1="27.940000000000012" x2="509.8" y2="27.940000000000012" stroke="#555" stroke-width="1"/>
<text x="505.50" y="32.24" font-size="14" text-anchor="end" >0.6</text>
<line x1="506.8" y1="63.82000000000001" x2="509.8" y2="63.82000000000001" stroke="#555" stroke-width="1"/>
<text x="505.50" y="68.12" font-size="14" text-anchor="end" >0.3</text>
<line x1="506.8" y1="99.7" x2="509.8" y2="99.7" stroke="#555" stroke-width="1"/>
<text x="505.50" y="104.00" font-size="14" text-anchor="end" >0.0</text>
<line x1="506.8" y1="135.57999999999998" x2="509.8" y2="135.57999999999998" stroke="#555" stroke-width="1"/>
<text x="505.50" y="139.88" font-size="14" text-anchor="end" >-0.3</text>
<line x1="625" y1="118.3" x2="642" y2="120.9" stroke="#000" stroke-width="1"/>
<path d="M641.2,118.4 L646.6,121.5 L640.6,123.3 Z" fill="#000"/>
<text x="649.30" y="126.60" font-size="13" text-anchor="start" >41</text>
<text x="512.20" y="143.70" font-size="13" text-anchor="start" >SC-NEVPT2</text>
<text x="490.50" y="13.60" font-size="19.5" text-anchor="start" >c</text>
<g font-size="14.5"><text x="552.70" y="178.4">Δ</text><text x="561.00" y="178.4" font-style="italic">E</text><text x="574.90" y="178.4" font-size="12.5">(</text><text x="578.00" y="178.4">S</text><text x="587.60" y="181.40" font-size="11">0</text><line x1="595.40" y1="174.20" x2="608.20" y2="174.20" stroke="#000" stroke-width="0.9"/><path d="M604.60,171.20 L608.60,174.20 L604.60,177.20" fill="none" stroke="#000" stroke-width="0.9"/><text x="608.80" y="178.4">S</text><text x="619.20" y="181.40" font-size="11">1</text><text x="625.40" y="178.4" font-size="12.5">)</text><text x="633.30" y="178.4">(eV)</text></g>
<text transform="translate(476.9,81.15) rotate(-90)" font-size="14.5" text-anchor="middle"><tspan>Δ</tspan><tspan font-style="italic">E</tspan><tspan font-size="11" dy="3">ST</tspan><tspan dy="-3" dx="1">(eV)</tspan></text>
<clipPath id="cd"><rect x="47.6" y="203.5" width="171.2" height="131.9"/></clipPath><g clip-path="url(#cd)">
<g fill="#8204ff" fill-opacity="0.72"><circle cx="131.7" cy="204.8" r="2.8"/><circle cx="133.6" cy="208.6" r="2.8"/><circle cx="135.9" cy="210.0" r="2.8"/><circle cx="136.6" cy="212.5" r="2.8"/><circle cx="139.6" cy="215.2" r="2.8"/><circle cx="140.3" cy="214.7" r="2.8"/><circle cx="143.4" cy="211.4" r="2.8"/><circle cx="145.8" cy="210.9" r="2.8"/><circle cx="146.1" cy="206.3" r="2.8"/><circle cx="147.3" cy="203.8" r="2.8"/><circle cx="190.8" cy="202.9" r="2.8"/><circle cx="191.1" cy="207.0" r="2.8"/><circle cx="192.8" cy="210.2" r="2.8"/><circle cx="194.2" cy="212.8" r="2.8"/><circle cx="196.4" cy="215.2" r="2.8"/><circle cx="197.4" cy="218.7" r="2.8"/><circle cx="198.4" cy="220.4" r="2.8"/><circle cx="201.1" cy="222.8" r="2.8"/><circle cx="203.0" cy="224.4" r="2.8"/><circle cx="204.2" cy="228.0" r="2.8"/><circle cx="206.0" cy="226.5" r="2.8"/><circle cx="208.6" cy="224.0" r="2.8"/><circle cx="212.0" cy="223.0" r="2.8"/><circle cx="216.0" cy="222.8" r="2.8"/><circle cx="219.1" cy="222.5" r="2.8"/><circle cx="218.3" cy="246.2" r="2.8"/><circle cx="214.3" cy="247.4" r="2.8"/><circle cx="211.8" cy="248.1" r="2.8"/><circle cx="208.7" cy="249.5" r="2.8"/><circle cx="206.0" cy="249.6" r="2.8"/><circle cx="202.7" cy="249.7" r="2.8"/><circle cx="201.3" cy="249.1" r="2.8"/><circle cx="196.4" cy="249.4" r="2.8"/><circle cx="194.5" cy="249.3" r="2.8"/><circle cx="191.2" cy="249.3" r="2.8"/><circle cx="187.8" cy="250.8" r="2.8"/><circle cx="184.6" cy="251.0" r="2.8"/><circle cx="180.9" cy="251.6" r="2.8"/><circle cx="177.8" cy="252.1" r="2.8"/><circle cx="176.5" cy="252.4" r="2.8"/><circle cx="172.4" cy="251.4" r="2.8"/><circle cx="169.1" cy="253.5" r="2.8"/><circle cx="166.5" cy="254.9" r="2.8"/><circle cx="162.7" cy="255.1" r="2.8"/><circle cx="162.2" cy="257.4" r="2.8"/><circle cx="159.4" cy="258.5" r="2.8"/><circle cx="156.6" cy="260.9" r="2.8"/><circle cx="155.4" cy="263.9" r="2.8"/><circle cx="151.4" cy="265.8" r="2.8"/><circle cx="148.2" cy="265.6" r="2.8"/><circle cx="147.3" cy="265.6" r="2.8"/><circle cx="144.4" cy="266.7" r="2.8"/><circle cx="139.8" cy="266.5" r="2.8"/><circle cx="138.0" cy="266.4" r="2.8"/><circle cx="136.0" cy="266.4" r="2.8"/><circle cx="133.5" cy="266.8" r="2.8"/><circle cx="129.4" cy="267.4" r="2.8"/><circle cx="126.9" cy="267.5" r="2.8"/><circle cx="125.6" cy="267.7" r="2.8"/><circle cx="122.4" cy="266.7" r="2.8"/><circle cx="119.9" cy="267.0" r="2.8"/><circle cx="117.1" cy="267.3" r="2.8"/><circle cx="114.0" cy="267.9" r="2.8"/><circle cx="110.6" cy="268.8" r="2.8"/><circle cx="107.2" cy="268.0" r="2.8"/><circle cx="105.8" cy="268.5" r="2.8"/><circle cx="102.9" cy="272.0" r="2.8"/><circle cx="99.6" cy="272.9" r="2.8"/><circle cx="96.3" cy="275.2" r="2.8"/><circle cx="93.8" cy="275.3" r="2.8"/><circle cx="91.8" cy="274.5" r="2.8"/><circle cx="88.7" cy="274.6" r="2.8"/><circle cx="86.0" cy="275.3" r="2.8"/><circle cx="82.8" cy="274.7" r="2.8"/><circle cx="80.0" cy="274.7" r="2.8"/><circle cx="76.4" cy="274.4" r="2.8"/><circle cx="74.9" cy="274.6" r="2.8"/><circle cx="71.9" cy="273.3" r="2.8"/><circle cx="69.1" cy="273.9" r="2.8"/><circle cx="66.8" cy="272.3" r="2.8"/><circle cx="64.7" cy="269.9" r="2.8"/><circle cx="63.5" cy="266.6" r="2.8"/><circle cx="61.3" cy="263.3" r="2.8"/><circle cx="61.2" cy="261.7" r="2.8"/><circle cx="60.5" cy="259.8" r="2.8"/><circle cx="60.5" cy="256.6" r="2.8"/><circle cx="61.2" cy="254.0" r="2.8"/><circle cx="63.9" cy="252.1" r="2.8"/><circle cx="64.0" cy="249.1" r="2.8"/><circle cx="66.6" cy="248.4" r="2.8"/><circle cx="68.1" cy="245.1" r="2.8"/><circle cx="72.0" cy="242.9" r="2.8"/><circle cx="72.6" cy="240.4" r="2.8"/><circle cx="74.1" cy="238.0" r="2.8"/><circle cx="74.5" cy="235.5" r="2.8"/><circle cx="76.6" cy="231.8" r="2.8"/><circle cx="77.9" cy="229.2" r="2.8"/><circle cx="81.1" cy="227.9" r="2.8"/><circle cx="81.9" cy="224.9" r="2.8"/><circle cx="84.1" cy="222.4" r="2.8"/><circle cx="86.6" cy="220.3" r="2.8"/><circle cx="90.4" cy="219.4" r="2.8"/><circle cx="92.6" cy="216.6" r="2.8"/><circle cx="94.7" cy="215.4" r="2.8"/><circle cx="98.1" cy="213.6" r="2.8"/><circle cx="100.2" cy="210.8" r="2.8"/><circle cx="102.7" cy="210.4" r="2.8"/><circle cx="106.0" cy="206.9" r="2.8"/><circle cx="108.7" cy="205.4" r="2.8"/><circle cx="108.4" cy="204.1" r="2.8"/></g>
<g fill="#8204ff" fill-opacity="0.72"><circle cx="201.4" cy="213.9" r="2.8"/><circle cx="211.2" cy="253.0" r="2.8"/><circle cx="195.5" cy="253.9" r="2.8"/><circle cx="144.4" cy="272.0" r="2.8"/><circle cx="203.8" cy="253.1" r="2.8"/><circle cx="180.9" cy="257.8" r="2.8"/><circle cx="172.1" cy="257.2" r="2.8"/><circle cx="165.2" cy="259.7" r="2.8"/><circle cx="195.9" cy="207.7" r="2.8"/><circle cx="158.3" cy="265.0" r="2.8"/><circle cx="174.6" cy="255.2" r="2.8"/><circle cx="195.1" cy="253.4" r="2.8"/><circle cx="137.9" cy="208.6" r="2.8"/><circle cx="184.8" cy="253.9" r="2.8"/><circle cx="208.9" cy="252.9" r="2.8"/><circle cx="194.1" cy="254.0" r="2.8"/><circle cx="142.4" cy="209.5" r="2.8"/><circle cx="160.9" cy="263.7" r="2.8"/><circle cx="133.8" cy="270.7" r="2.8"/><circle cx="147.4" cy="269.9" r="2.8"/><circle cx="173.1" cy="257.2" r="2.8"/><circle cx="194.8" cy="207.4" r="2.8"/></g>
<polygon points="109.9,200.7 131.8,200.7 133.5,208.1 139.0,216.0 145.4,210.5 147.7,200.7 189.9,200.7 191.5,206.9 194.6,213.2 198.2,220.5 204.3,227.7 209.4,223.8 212.6,222.2 222.3,222.2 222.3,246.4 217.6,246.6 209.4,248.6 197.4,249.6 184.8,250.6 172.4,251.8 163.5,255.2 157.3,261.4 152.0,264.9 140.7,266.8 119.8,267.8 104.9,268.9 99.6,273.6 94.6,275.3 80.2,275.3 68.2,273.9 64.3,270.4 61.8,264.3 60.9,259.0 61.8,253.9 66.4,247.5 71.6,242.3 76.8,232.0 82.6,225.2 89.4,218.4 97.3,213.1 102.5,209.7 108.3,205.7" fill="#8a0cff"/>
<polygon points="69.5,252.5 72.5,253.5 77.5,260.5 76.5,263.5 72,265.8 66.5,265.5 70.5,262 72.5,259.5 70,256" fill="#fff" fill-opacity="0.9"/>
<g fill="#8204ff" fill-opacity="0.6"><circle cx="68.0" cy="259.0" r="2.8"/><circle cx="66.0" cy="262.5" r="2.8"/><circle cx="79.0" cy="265.5" r="2.8"/></g>
<ellipse cx="148.8" cy="230" rx="1.5" ry="1.2" transform="rotate(0 148.8 230)" fill="#fff" fill-opacity="0.8"/>
<ellipse cx="159" cy="233" rx="1.5" ry="1.8" transform="rotate(0 159 233)" fill="#fff" fill-opacity="0.8"/>
<ellipse cx="104" cy="266.5" rx="2" ry="1.6" transform="rotate(0 104 266.5)" fill="#fff" fill-opacity="0.8"/>
</g>
<g fill="#8204ff" fill-opacity="0.72"><circle cx="52.1" cy="264.6" r="2.8"/><circle cx="103.6" cy="273.2" r="2.8"/><circle cx="100.2" cy="280.0" r="2.8"/><circle cx="113.7" cy="286.1" r="2.8"/><circle cx="90.7" cy="276.6" r="2.8"/><circle cx="67.0" cy="274.6" r="2.8"/><circle cx="103.0" cy="273.8" r="2.8"/><circle cx="99.8" cy="279.2" r="2.8"/><circle cx="149.7" cy="275.9" r="2.8"/><circle cx="154.0" cy="272.7" r="2.8"/><circle cx="172.0" cy="275.9" r="2.8"/><circle cx="177.9" cy="266.2" r="2.8"/><circle cx="208.6" cy="254.6" r="2.8"/><circle cx="193.2" cy="260.3" r="2.8"/><circle cx="183.4" cy="266.0" r="2.8"/><circle cx="178.2" cy="267.3" r="2.8"/><circle cx="168.8" cy="257.1" r="2.8"/><circle cx="167.2" cy="259.5" r="2.8"/><circle cx="166.3" cy="263.6" r="2.8"/><circle cx="168.8" cy="267.6" r="2.8"/><circle cx="165.5" cy="268.5" r="2.8"/><circle cx="151.7" cy="265.2" r="2.8"/><circle cx="142.8" cy="270.1" r="2.8"/><circle cx="153.3" cy="273.3" r="2.8"/><circle cx="149.3" cy="276.6" r="2.8"/><circle cx="172.0" cy="276.1" r="2.8"/><circle cx="132.2" cy="285.5" r="2.8"/><circle cx="163.1" cy="283.1" r="2.8"/><circle cx="160.7" cy="284.7" r="2.8"/><circle cx="162.6" cy="287.2" r="2.8"/><circle cx="168.8" cy="287.2" r="2.8"/><circle cx="168.0" cy="288.8" r="2.8"/><circle cx="189.6" cy="288.3" r="2.8"/><circle cx="158.2" cy="293.7" r="2.8"/><circle cx="155.8" cy="295.0" r="2.8"/><circle cx="125.7" cy="299.3" r="2.8"/><circle cx="199.7" cy="249.8" r="2.8"/><circle cx="211.1" cy="247.3" r="2.8"/><circle cx="213.5" cy="243.3" r="2.8"/><circle cx="85.6" cy="295.0" r="2.8"/><circle cx="90.7" cy="300.1" r="2.8"/><circle cx="103.1" cy="305.8" r="2.8"/><circle cx="110.8" cy="294.0" r="2.8"/><circle cx="112.5" cy="292.7" r="2.8"/><circle cx="125.3" cy="300.1" r="2.8"/><circle cx="119.9" cy="316.9" r="2.8"/><circle cx="121.6" cy="331.0" r="2.8"/><circle cx="148.4" cy="322.9" r="2.8"/><circle cx="202.6" cy="208.1" r="2.8"/><circle cx="214.1" cy="214.9" r="2.8"/><circle cx="197.1" cy="214.2" r="2.8"/><circle cx="140.0" cy="208.0" r="2.8"/><circle cx="136.5" cy="206.0" r="2.8"/><circle cx="110.0" cy="207.0" r="2.8"/><circle cx="183.9" cy="265.5" r="2.8"/><circle cx="166.6" cy="261.0" r="2.8"/><circle cx="166.6" cy="266.1" r="2.8"/><circle cx="151.4" cy="265.1" r="2.8"/><circle cx="153.4" cy="272.2" r="2.8"/><circle cx="171.7" cy="274.2" r="2.8"/><circle cx="150.3" cy="261.0" r="2.8"/><circle cx="162.5" cy="254.0" r="2.8"/></g>
<line x1="47.6" y1="269.45" x2="218.8" y2="269.45" stroke="#000" stroke-width="1.2"/>
<rect x="47.6" y="203.5" width="171.20" height="131.90" fill="none" stroke="#5e5e5e" stroke-width="1.3"/>
<line x1="47.6" y1="335.4" x2="47.6" y2="338.4" stroke="#333" stroke-width="1"/>
<text x="47.60" y="349.60" font-size="14" text-anchor="middle" >0</text>
<line x1="81.84" y1="335.4" x2="81.84" y2="338.4" stroke="#333" stroke-width="1"/>
<text x="81.84" y="349.60" font-size="14" text-anchor="middle" >1</text>
<line x1="116.08000000000001" y1="335.4" x2="116.08000000000001" y2="338.4" stroke="#333" stroke-width="1"/>
<text x="116.08" y="349.60" font-size="14" text-anchor="middle" >2</text>
<line x1="150.32000000000002" y1="335.4" x2="150.32000000000002" y2="338.4" stroke="#333" stroke-width="1"/>
<text x="150.32" y="349.60" font-size="14" text-anchor="middle" >3</text>
<line x1="184.56" y1="335.4" x2="184.56" y2="338.4" stroke="#333" stroke-width="1"/>
<text x="184.56" y="349.60" font-size="14" text-anchor="middle" >4</text>
<line x1="218.8" y1="335.4" x2="218.8" y2="338.4" stroke="#333" stroke-width="1"/>
<text x="218.80" y="349.60" font-size="14" text-anchor="middle" >5</text>
<line x1="44.6" y1="203.495" x2="47.6" y2="203.495" stroke="#333" stroke-width="1"/>
<text x="43.30" y="207.80" font-size="14" text-anchor="end" >1.5</text>
<line x1="44.6" y1="225.48" x2="47.6" y2="225.48" stroke="#333" stroke-width="1"/>
<text x="43.30" y="229.78" font-size="14" text-anchor="end" >1.0</text>
<line x1="44.6" y1="247.46499999999997" x2="47.6" y2="247.46499999999997" stroke="#333" stroke-width="1"/>
<text x="43.30" y="251.76" font-size="14" text-anchor="end" >0.5</text>
<line x1="44.6" y1="269.45" x2="47.6" y2="269.45" stroke="#333" stroke-width="1"/>
<text x="43.30" y="273.75" font-size="14" text-anchor="end" >0.0</text>
<line x1="44.6" y1="291.435" x2="47.6" y2="291.435" stroke="#333" stroke-width="1"/>
<text x="43.30" y="295.74" font-size="14" text-anchor="end" >-0.5</text>
<line x1="44.6" y1="313.41999999999996" x2="47.6" y2="313.41999999999996" stroke="#333" stroke-width="1"/>
<text x="43.30" y="317.72" font-size="14" text-anchor="end" >-1.0</text>
<line x1="44.6" y1="335.405" x2="47.6" y2="335.405" stroke="#333" stroke-width="1"/>
<text x="43.30" y="339.70" font-size="14" text-anchor="end" >-1.5</text>
<line x1="150.4" y1="302.8" x2="162.6" y2="310.6" stroke="#000" stroke-width="1"/>
<path d="M160.9,307.9 L166.4,313 L158.8,311.3 Z" fill="#000"/>
<text x="167.60" y="322.50" font-size="13" text-anchor="start" >117</text>
<text x="50.40" y="330.20" font-size="13" text-anchor="start" >EOM-CCSD</text>
<text x="8.80" y="203.80" font-size="19.5" text-anchor="start" >d</text>
<g font-size="14.5"><text x="84.70" y="364.5">Δ</text><text x="93.00" y="364.5" font-style="italic">E</text><text x="106.90" y="364.5" font-size="12.5">(</text><text x="110.00" y="364.5">S</text><text x="119.60" y="367.50" font-size="11">0</text><line x1="127.40" y1="360.30" x2="140.20" y2="360.30" stroke="#000" stroke-width="0.9"/><path d="M136.60,357.30 L140.60,360.30 L136.60,363.30" fill="none" stroke="#000" stroke-width="0.9"/><text x="140.80" y="364.5">S</text><text x="151.20" y="367.50" font-size="11">1</text><text x="157.40" y="364.5" font-size="12.5">)</text><text x="165.30" y="364.5">(eV)</text></g>
<text transform="translate(14.4,268.7) rotate(-90)" font-size="14.5" text-anchor="middle"><tspan>Δ</tspan><tspan font-style="italic">E</tspan><tspan font-size="11" dy="3">ST</tspan><tspan dy="-3" dx="1">(eV)</tspan></text>
<g fill="#ff1010" fill-opacity="0.7"><circle cx="361.7" cy="236.8" r="2.75"/><circle cx="367.8" cy="272.2" r="2.75"/><circle cx="351.5" cy="285.6" r="2.75"/><circle cx="364.1" cy="284.4" r="2.75"/><circle cx="353.2" cy="291.0" r="2.75"/><circle cx="357.6" cy="289.8" r="2.75"/><circle cx="365.4" cy="289.3" r="2.75"/><circle cx="341.5" cy="292.9" r="2.75"/><circle cx="347.8" cy="294.6" r="2.75"/><circle cx="356.8" cy="293.9" r="2.75"/><circle cx="317.1" cy="300.2" r="2.75"/><circle cx="335.6" cy="302.4" r="2.75"/><circle cx="341.0" cy="299.5" r="2.75"/><circle cx="344.6" cy="301.2" r="2.75"/><circle cx="349.5" cy="302.4" r="2.75"/><circle cx="353.2" cy="303.2" r="2.75"/><circle cx="358.0" cy="299.0" r="2.75"/><circle cx="360.5" cy="297.8" r="2.75"/><circle cx="366.6" cy="300.2" r="2.75"/><circle cx="333.7" cy="308.5" r="2.75"/><circle cx="341.0" cy="307.3" r="2.75"/><circle cx="344.6" cy="308.5" r="2.75"/><circle cx="350.7" cy="309.3" r="2.75"/><circle cx="352.7" cy="310.5" r="2.75"/><circle cx="360.5" cy="305.1" r="2.75"/><circle cx="365.4" cy="304.4" r="2.75"/><circle cx="359.3" cy="319.8" r="2.75"/><circle cx="368.5" cy="295.9" r="2.75"/><circle cx="418.1" cy="222.7" r="2.75"/><circle cx="423.5" cy="225.4" r="2.75"/><circle cx="421.5" cy="229.0" r="2.75"/><circle cx="420.6" cy="232.0" r="2.75"/><circle cx="416.2" cy="233.7" r="2.75"/><circle cx="440.6" cy="248.3" r="2.75"/><circle cx="435.0" cy="251.0" r="2.75"/><circle cx="428.4" cy="251.5" r="2.75"/><circle cx="419.8" cy="254.4" r="2.75"/><circle cx="423.0" cy="255.7" r="2.75"/><circle cx="425.4" cy="256.4" r="2.75"/><circle cx="388.6" cy="253.2" r="2.75"/><circle cx="406.4" cy="255.2" r="2.75"/><circle cx="417.9" cy="258.8" r="2.75"/><circle cx="411.8" cy="261.8" r="2.75"/><circle cx="414.2" cy="263.2" r="2.75"/><circle cx="408.8" cy="265.0" r="2.75"/><circle cx="412.5" cy="267.9" r="2.75"/><circle cx="417.4" cy="265.0" r="2.75"/><circle cx="423.0" cy="263.7" r="2.75"/><circle cx="389.8" cy="263.2" r="2.75"/><circle cx="391.7" cy="268.1" r="2.75"/><circle cx="397.1" cy="267.4" r="2.75"/><circle cx="395.4" cy="272.3" r="2.75"/><circle cx="399.1" cy="276.7" r="2.75"/><circle cx="404.0" cy="271.8" r="2.75"/><circle cx="427.2" cy="271.8" r="2.75"/><circle cx="373.9" cy="278.4" r="2.75"/><circle cx="384.4" cy="277.6" r="2.75"/><circle cx="429.6" cy="283.3" r="2.75"/><circle cx="373.4" cy="284.0" r="2.75"/><circle cx="380.8" cy="283.7" r="2.75"/><circle cx="395.4" cy="285.7" r="2.75"/><circle cx="371.0" cy="289.9" r="2.75"/><circle cx="385.6" cy="289.4" r="2.75"/><circle cx="403.5" cy="290.1" r="2.75"/><circle cx="371.0" cy="294.2" r="2.75"/><circle cx="381.5" cy="296.7" r="2.75"/><circle cx="388.1" cy="294.2" r="2.75"/><circle cx="405.2" cy="299.1" r="2.75"/><circle cx="406.8" cy="313.6" r="2.75"/><circle cx="380.2" cy="299.4" r="2.75"/><circle cx="380.2" cy="309.8" r="2.75"/><circle cx="379.8" cy="315.0" r="2.75"/><circle cx="373.8" cy="301.9" r="2.75"/><circle cx="373.2" cy="304.2" r="2.75"/><circle cx="346.6" cy="301.3" r="2.75"/><circle cx="359.9" cy="321.4" r="2.75"/><circle cx="378.8" cy="309.0" r="2.75"/><circle cx="415.6" cy="265.0" r="2.75"/><circle cx="418.8" cy="263.4" r="2.75"/><circle cx="370.0" cy="272.0" r="2.75"/></g>
<line x1="282.3" y1="287.6" x2="453.2" y2="287.6" stroke="#333" stroke-width="1.2"/>
<rect x="282.3" y="203.7" width="170.90" height="131.80" fill="none" stroke="#555" stroke-width="1.1"/>
<line x1="282.3" y1="335.5" x2="282.3" y2="338.5" stroke="#555" stroke-width="1"/>
<text x="282.30" y="350.10" font-size="14" text-anchor="middle" >0</text>
<line x1="367.75" y1="335.5" x2="367.75" y2="338.5" stroke="#555" stroke-width="1"/>
<text x="367.75" y="350.10" font-size="14" text-anchor="middle" >1</text>
<line x1="453.2" y1="335.5" x2="453.2" y2="338.5" stroke="#555" stroke-width="1"/>
<text x="453.20" y="350.10" font-size="14" text-anchor="middle" >2</text>
<line x1="279.3" y1="215.78000000000003" x2="282.3" y2="215.78000000000003" stroke="#555" stroke-width="1"/>
<text x="278.00" y="220.08" font-size="14" text-anchor="end" >0.6</text>
<line x1="279.3" y1="251.69000000000003" x2="282.3" y2="251.69000000000003" stroke="#555" stroke-width="1"/>
<text x="278.00" y="255.99" font-size="14" text-anchor="end" >0.3</text>
<line x1="279.3" y1="287.6" x2="282.3" y2="287.6" stroke="#555" stroke-width="1"/>
<text x="278.00" y="291.90" font-size="14" text-anchor="end" >0.0</text>
<line x1="279.3" y1="323.51" x2="282.3" y2="323.51" stroke="#555" stroke-width="1"/>
<text x="278.00" y="327.81" font-size="14" text-anchor="end" >-0.3</text>
<line x1="408.1" y1="307.2" x2="420.5" y2="312.1" stroke="#000" stroke-width="1"/>
<path d="M419.4,309.7 L425,313.8 L418,314.4 Z" fill="#000"/>
<text x="425.50" y="321.40" font-size="13" text-anchor="start" >46</text>
<text x="285.30" y="332.00" font-size="13" text-anchor="start" >SC-NEVPT2</text>
<text x="243.60" y="204.60" font-size="19.5" text-anchor="start" >e</text>
<g font-size="14.5"><text x="325.00" y="364.5">Δ</text><text x="333.30" y="364.5" font-style="italic">E</text><text x="347.20" y="364.5" font-size="12.5">(</text><text x="350.30" y="364.5">S</text><text x="359.90" y="367.50" font-size="11">0</text><line x1="367.70" y1="360.30" x2="380.50" y2="360.30" stroke="#000" stroke-width="0.9"/><path d="M376.90,357.30 L380.90,360.30 L376.90,363.30" fill="none" stroke="#000" stroke-width="0.9"/><text x="381.10" y="364.5">S</text><text x="391.50" y="367.50" font-size="11">1</text><text x="397.70" y="364.5" font-size="12.5">)</text><text x="405.60" y="364.5">(eV)</text></g>
<text transform="translate(248.9,268.95) rotate(-90)" font-size="14.5" text-anchor="middle"><tspan>Δ</tspan><tspan font-style="italic">E</tspan><tspan font-size="11" dy="3">ST</tspan><tspan dy="-3" dx="1">(eV)</tspan></text>
<rect x="510.5" y="206.2" width="171.00" height="131.20" fill="none" stroke="#555" stroke-width="1.1"/>
<rect x="561.2" y="327.9" width="11.6" height="9.5" fill="#f28a2a" stroke="#444" stroke-width="0.8"/>
<rect x="618.4" y="225.8" width="12.2" height="111.6" fill="#65ade0" stroke="#444" stroke-width="0.8"/>
<line x1="567.1" y1="337.4" x2="567.1" y2="340.4" stroke="#555" stroke-width="1"/>
<line x1="624.6" y1="337.4" x2="624.6" y2="340.4" stroke="#555" stroke-width="1"/>
<text x="566.60" y="354.80" font-size="14.5" text-anchor="middle" >DASM</text>
<text x="626.80" y="355.90" font-size="14.5" text-anchor="middle" >FCSM</text>
<text x="543.20" y="326.50" font-size="14" text-anchor="start" >2.8×10<tspan font-size="10" dy="-5">3</tspan></text>
<text x="601.50" y="222.80" font-size="14" text-anchor="start" >3.6×10<tspan font-size="10" dy="-5">4</tspan></text>
<text x="495.50" y="204.20" font-size="19.5" text-anchor="start" >f</text>
<text transform="translate(503.3,311) rotate(-90)" font-size="14">CPU time (h)</text>
</svg></body></html>
